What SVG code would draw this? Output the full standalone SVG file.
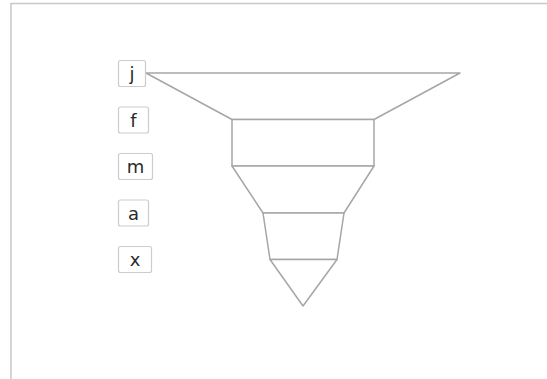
<svg xmlns="http://www.w3.org/2000/svg" width="547" height="379" viewBox="0 0 547 379">
<style>
.frame{fill:none;stroke:#c8c8c8;stroke-width:1.5}
.seg{fill:#ffffff;stroke:#a6a6a6;stroke-width:1.5;stroke-linejoin:round}
.box{fill:#ffffff;stroke:#cccccc;stroke-width:1.2}
.lbl{font-family:"DejaVu Sans","Liberation Sans",sans-serif;font-size:18px;fill:#2a2a2a;text-anchor:middle}
</style>
<rect width="547" height="379" fill="#ffffff"/>
<path class="frame" d="M11 380 V3.5 H547"/>
<g id="funnel">
<polygon class="seg" points="146,73 460,73 374,119.5 232,119.5"/>
<polygon class="seg" points="232,119.5 374,119.5 374,166 232,166"/>
<polygon class="seg" points="232,166 374,166 344,213 263,213"/>
<polygon class="seg" points="263,213 344,213 337,259.5 270,259.5"/>
<polygon class="seg" points="270,259.5 337,259.5 303,306"/>
</g>
<g id="label-j"><rect class="box" x="118.5" y="60.5" width="27" height="26" rx="2"/><text class="lbl" x="132" y="80">j</text></g>
<g id="label-f"><rect class="box" x="118.5" y="107" width="30" height="26" rx="2"/><text class="lbl" x="133.5" y="126.5">f</text></g>
<g id="label-m"><rect class="box" x="118.5" y="153.5" width="34" height="26" rx="2"/><text class="lbl" x="135.5" y="173">m</text></g>
<g id="label-a"><rect class="box" x="118.5" y="200" width="30" height="26" rx="2"/><text class="lbl" x="133.5" y="219.5">a</text></g>
<g id="label-x"><rect class="box" x="118.5" y="246.5" width="33" height="26" rx="2"/><text class="lbl" x="135" y="266">x</text></g>
</svg>
